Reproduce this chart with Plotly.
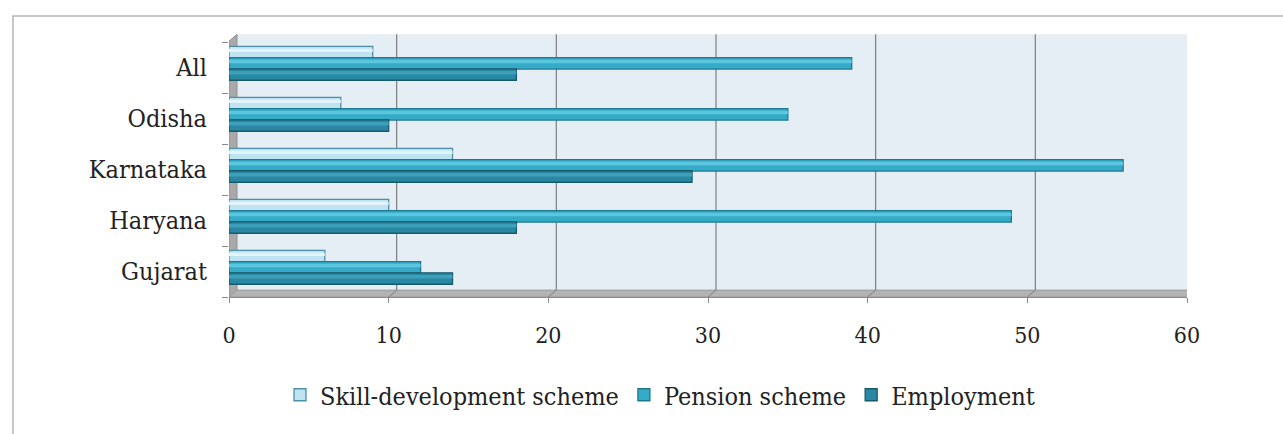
import plotly.graph_objects as go

# Survey results by state (percent of respondents)
states = ["Gujarat", "Haryana", "Karnataka", "Odisha", "All"]
skill_development = [6, 10, 14, 7, 9]
pension_scheme = [12, 49, 56, 35, 39]
employment = [14, 18, 29, 10, 18]
x_ticks = [0, 10, 20, 30, 40, 50, 60]

# name, values, fill, edge, highlight, offset of the bar's lower edge
series = [
    ("Skill-development scheme", skill_development, "#bfe3f1", "#4f8fa6", "#e2f4fb", 0.19),
    ("Pension scheme", pension_scheme, "#36abc8", "#1e7892", "#5cc6de", -0.03),
    ("Employment", employment, "#2a88a3", "#17596d", "#3d9fba", -0.25),
]
bar_w = 0.225

fig = go.Figure()
for name, vals, col, edge, hi, off in series:
    fig.add_trace(go.Bar(
        y=states, x=vals, orientation="h", name=name,
        width=bar_w, offset=off,
        marker=dict(color=col, line=dict(color=edge, width=1.3)),
    ))
    # glossy stripe along the upper part of each bar (cylinder look)
    fig.add_trace(go.Bar(
        y=states, x=vals, orientation="h", name=name, showlegend=False,
        width=bar_w * 0.3, offset=off + bar_w * 0.5,
        marker=dict(color=hi, line=dict(width=0)), hoverinfo="skip",
    ))

# geometry of the pseudo-3D frame (depth offset)
dx = 0.5      # data units to the right
dy = 0.027    # paper units upwards
top = 1.03

shapes = []
# back wall
shapes.append(dict(type="rect", xref="x", yref="paper", x0=dx, x1=60 + dx,
                   y0=dy, y1=top, fillcolor="#e5edf5", line=dict(width=0),
                   layer="below"))
# left side wall
shapes.append(dict(type="path", xref="x", yref="paper",
                   path=f"M 0 0 L 0 {top - dy} L {dx} {top} L {dx} {dy} Z",
                   fillcolor="#a9a9a9", line=dict(color="#8f8f8f", width=1),
                   layer="below"))
# floor
shapes.append(dict(type="path", xref="x", yref="paper",
                   path=f"M 0 0 L 60 0 L {60 + dx} {dy} L {dx} {dy} Z",
                   fillcolor="#b3b3b3", line=dict(color="#9a9a9a", width=1),
                   layer="below"))
# gridlines on the back wall plus their diagonal on the floor
for v in x_ticks[1:]:
    shapes.append(dict(type="line", xref="x", yref="paper", x0=v + dx, x1=v + dx,
                       y0=dy, y1=top, line=dict(color="#7d7d7d", width=1.2),
                       layer="below"))
    shapes.append(dict(type="line", xref="x", yref="paper", x0=v, x1=v + dx,
                       y0=0, y1=dy, line=dict(color="#7d7d7d", width=1),
                       layer="below"))
# outer frame of the figure
shapes.append(dict(type="rect", xref="paper", yref="paper",
                   x0=(13 - 229) / 958, x1=1.2, y0=-0.8, y1=(297 - 16) / 255,
                   line=dict(color="#b5b5b5", width=1.5), fillcolor="rgba(0,0,0,0)"))

font_family = "DejaVu Serif Condensed, DejaVu Serif, serif"

fig.update_layout(
    width=1283, height=434,
    margin=dict(l=229, r=96, t=42, b=137),
    paper_bgcolor="white", plot_bgcolor="white",
    barmode="overlay",
    showlegend=True,
    shapes=shapes,
    font=dict(family=font_family, size=24, color="#222222"),
    legend=dict(orientation="h", x=(660 - 229) / 958, xanchor="center",
                y=(297 - 395) / 255, yanchor="middle",
                font=dict(size=25), itemwidth=30, tracegroupgap=0,
                bgcolor="rgba(0,0,0,0)"),
    xaxis=dict(range=[0, 60], tickvals=x_ticks, showgrid=False, zeroline=False,
               showline=True, linecolor="#8a8a8a", linewidth=1,
               ticks="outside", ticklen=5, tickcolor="#8a8a8a",
               ticklabelstandoff=12, tickfont=dict(size=23)),
    yaxis=dict(type="category", categoryorder="array", categoryarray=states,
               range=[-0.5, 4.5], showgrid=False, zeroline=False,
               showline=False, ticks="outside", tickson="boundaries",
               ticklen=6, tickcolor="#8a8a8a", ticklabelstandoff=21,
               tickfont=dict(size=25)),
)

fig.write_html("out.html")
